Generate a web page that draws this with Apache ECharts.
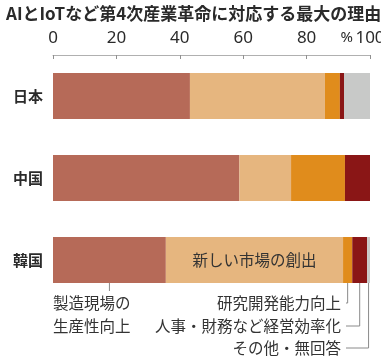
<!DOCTYPE html>
<html><head><meta charset="utf-8">
<script src="https://cdn.jsdelivr.net/npm/echarts@6/dist/echarts.min.js"></script>
<style>html,body{margin:0;padding:0;background:#fff}#c{width:381px;height:358px}</style>
</head><body><div id="c"></div>
<script>
const categories = ['日本', '中国', '韓国'];
const seriesNames = ['製造現場の生産性向上', '新しい市場の創出', '研究開発能力向上', '人事・財務など経営効率化', 'その他・無回答'];
const productivity = [43.2, 58.8, 35.6];
const newMarket = [42.6, 16.3, 55.9];
const rnd = [4.7, 17.0, 2.9];
const efficiency = [1.3, 7.9, 4.7];
const other = [8.2, 0, 0.9];
const tickLabels = ['0', '20', '40', '60', '80', '100'];
const colors = ['#b66a58', '#e6b67f', '#e08c1c', '#8a1616', '#c8c9c8'];
const values = [productivity, newMarket, rnd, efficiency, other];
const font = '"Noto Sans CJK JP", "Noto Sans", sans-serif';
const numFont = '"Noto Sans", "Roboto", sans-serif';

const chart = echarts.init(document.getElementById('c'), null, {renderer: 'canvas'});
chart.setOption({
  animation: false,
  title: {
    text: 'AIとIoTなど第4次産業革命に対応する最大の理由',
    left: 1, top: 0,
    textStyle: {fontFamily: font, fontSize: 17, fontWeight: 'bold', color: '#2a2a2a'}
  },
  grid: {left: 53, right: 11, top: 55, height: 246, containLabel: false, outerBoundsMode: 'none'},
  xAxis: {
    type: 'value', position: 'top', min: 0, max: 100, interval: 20,
    axisLine: {show: true, lineStyle: {color: '#b0b0b0', width: 1}},
    axisTick: {show: true, inside: true, length: 4, lineStyle: {color: '#909090'}},
    splitLine: {show: false},
    axisLabel: {
      margin: 8, color: '#2a2a2a', fontFamily: numFont, fontSize: 17,
      hideOverlap: false,
      formatter: v => tickLabels[Math.round(v / 20)]
    }
  },
  yAxis: {
    type: 'category', data: categories, inverse: true,
    axisLine: {show: false}, axisTick: {show: false},
    axisLabel: {margin: 10, color: '#2a2a2a', fontFamily: font, fontSize: 15, fontWeight: 'bold'}
  },
  series: values.map((d, i) => ({
    type: 'bar', stack: 'total', name: seriesNames[i], data: d, barWidth: 46,
    itemStyle: {color: colors[i]},
    label: i === 1 ? {
      show: true, position: 'inside', fontFamily: font, fontSize: 15.5, color: '#333',
      formatter: p => p.dataIndex === 2 ? '新しい市場の創出' : ''
    } : {show: false}
  }))
});

// leader lines and annotation labels from the Korea bar
const k = 2;
const cum = [];
let s = 0;
values.forEach(v => { cum.push([s, s + v[k]]); s += v[k]; });
const px = v => chart.convertToPixel({xAxisIndex: 0}, v);
const barBottom = chart.convertToPixel({yAxisIndex: 0}, categories[k]) + 23;
const mid = i => px((cum[i][0] + cum[i][1]) / 2);
const lineStyle = {stroke: '#8a8a8a', lineWidth: 1};
const textStyle = {fontFamily: font, fontSize: 15.5, fill: '#333'};
const rightX = 341;
const rows = [303, 326, 348];
const g = [];
const x0 = mid(0);
g.push({type: 'line', shape: {x1: x0, y1: barBottom, x2: x0, y2: barBottom + 8}, style: lineStyle});
g.push({type: 'text', left: px(0), top: rows[0] - 11, style: Object.assign({text: '製造現場の\n生産性向上', lineHeight: 23}, textStyle)});
[2, 3, 4].forEach((si, j) => {
  const x = mid(si);
  const y = rows[j];
  g.push({type: 'polyline', shape: {points: [[x, barBottom], [x, y], [rightX + 5, y]]}, style: Object.assign({fill: null}, lineStyle)});
  g.push({type: 'text', x: rightX, y: y, style: Object.assign({text: seriesNames[si], align: 'right', verticalAlign: 'middle'}, textStyle)});
});
g.push({type: 'text', x: px(100) - 17, y: 38, style: {text: '%', align: 'right', verticalAlign: 'middle', fontFamily: numFont, fontSize: 15, fill: '#2a2a2a'}});
chart.setOption({graphic: g});
</script></body></html>
